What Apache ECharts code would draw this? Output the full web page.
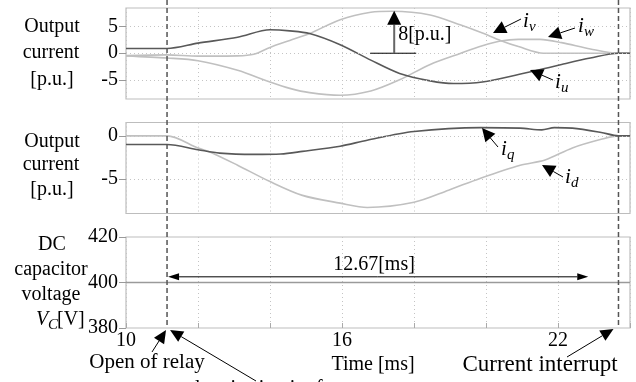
<!DOCTYPE html>
<html>
<head>
<meta charset="utf-8">
<script src="https://cdn.jsdelivr.net/npm/echarts@6/dist/echarts.min.js"></script>
<style>
html, body { margin: 0; padding: 0; background: #fff; }
#chart-box { width: 636px; height: 382px; }
</style>
</head>
<body>
<div id="chart-box"></div>
<script>
// output currents [p.u.] vs time [ms]
var timeU = [10, 11.14, 12, 13.1, 14, 14.55, 15.1, 15.95, 16.8, 17.6, 18.45, 19.1, 19.9, 20.9, 22.1, 22.9, 23.68, 24];
var iu = [0.9, 0.9, 1.9, 3.0, 4.4, 4.2, 3.7, 1.6, -1.3, -3.8, -5.2, -5.7, -5.4, -4.0, -2.1, -0.9, 0, 0];
var timeV = [10, 11.14, 12, 13.1, 13.55, 14, 14.55, 15.1, 15.95, 16.8, 17.4, 18.45, 19.3, 19.9, 20.4, 20.9, 21.6, 23.68, 24];
var iv = [-0.45, -0.3, -0.55, -0.5, -0.2, 1.1, 2.4, 3.7, 6.3, 7.7, 7.9, 7.2, 5.3, 3.8, 2.4, 1.25, 0, 0, 0];
var timeW = [10, 11.14, 12, 13.1, 14, 14.55, 15.1, 15.95, 16.8, 17.6, 18.45, 19.3, 19.9, 20.4, 20.9, 21.5, 22.1, 22.9, 23.68, 24];
var iw = [-0.5, -0.9, -1.4, -3.2, -5.4, -6.6, -7.4, -7.9, -7.1, -5.0, -2.1, 0.0, 1.4, 2.3, 2.6, 2.6, 2.0, 0.8, 0, 0];
// dq currents
var timeQ = [10, 11.14, 12, 12.6, 13.55, 14.3, 14.9, 15.95, 16.7, 18, 19.85, 20.95, 21.55, 21.9, 22.4, 23.2, 23.68, 24];
var iq = [-1.0, -1.0, -1.6, -2.0, -2.15, -2.1, -1.8, -1.2, -0.5, 0.5, 0.96, 0.9, 0.7, 0.96, 0.9, 0.4, 0, 0];
var timeD = [10, 11.14, 12, 12.3, 13.1, 14, 14.9, 15.95, 16.7, 18, 18.96, 19.85, 20.95, 21.64, 22.4, 23.2, 23.68, 24];
var id = [0, 0, -1.4, -1.8, -3.4, -5.3, -6.9, -7.8, -8.3, -7.7, -6.3, -4.9, -3.4, -2.8, -1.4, -0.4, 0, 0];
// dc capacitor voltage [V]
var timeVc = [10, 24];
var vc = [400, 400];

var relayOpen = 11.14;
var currentStop = 23.68;
var xLabels = [10, 16, 22];
var yTicksTop = [5, 0, -5];
var yTicksMid = [0, -5];
var yTicksBot = [420, 400, 380];

var FONT = 'Liberation Serif';
var DARK = '#595959';
var LIGHT = '#c0c0c0';

function pairs(t, v) {
    return t.map(function (x, i) { return [x, v[i]]; });
}

function xAxisOf(idx, withLabel) {
    return {
        type: 'value', gridIndex: idx, min: 10, max: 24, interval: 2,
        axisLine: { show: false },
        axisTick: { show: withLabel, inside: true, length: 5, lineStyle: { color: '#aaa' } },
        axisLabel: {
            show: withLabel, margin: 3, color: '#000', fontSize: 20, fontFamily: FONT,
            formatter: function (v) { return xLabels.indexOf(v) >= 0 ? String(v) : ''; }
        },
        splitLine: { show: true, lineStyle: { type: [1, 3], color: '#c4c4c4' } }
    };
}

function yAxisOf(idx, min, max, ticks) {
    return {
        type: 'value', gridIndex: idx, min: min, max: max,
        axisLine: { show: false },
        axisTick: { show: true, length: 7, customValues: ticks, lineStyle: { color: '#999' } },
        axisLabel: { margin: 8, color: '#000', fontSize: 20, fontFamily: FONT, customValues: ticks },
        splitLine: { show: false }
    };
}

function gridLines(ticks) {
    return {
        silent: true, symbol: ['none', 'none'], label: { show: false }, animation: false,
        lineStyle: { type: [1, 3], color: '#c4c4c4', width: 1 },
        data: ticks.map(function (v) { return { yAxis: v }; })
    };
}

function lineSeries(name, idx, data, color, extra) {
    var s = {
        name: name, type: 'line', xAxisIndex: idx, yAxisIndex: idx,
        data: data, symbol: 'none', smooth: 0.3,
        lineStyle: { color: color, width: 1.6 }, z: 3
    };
    if (extra) s.markLine = extra;
    return s;
}

var gridStyle = { show: true, borderColor: '#bdbdbd', borderWidth: 1.2, left: 126, right: 6, height: 91 };

var option = {
    animation: false,
    grid: [
        Object.assign({ top: 8 }, gridStyle),
        Object.assign({ top: 122.5 }, gridStyle),
        Object.assign({ top: 237 }, gridStyle)
    ],
    xAxis: [xAxisOf(0, false), xAxisOf(1, false), xAxisOf(2, true)],
    yAxis: [
        yAxisOf(0, -8.6, 8.5, yTicksTop),
        yAxisOf(1, -9, 1.55, yTicksMid),
        yAxisOf(2, 380, 420, yTicksBot)
    ],
    series: [
        lineSeries('iw', 0, pairs(timeW, iw), LIGHT, gridLines(yTicksTop)),
        lineSeries('iv', 0, pairs(timeV, iv), LIGHT),
        lineSeries('iu', 0, pairs(timeU, iu), DARK),
        lineSeries('id', 1, pairs(timeD, id), LIGHT, gridLines(yTicksMid)),
        lineSeries('iq', 1, pairs(timeQ, iq), DARK),
        lineSeries('Vc', 2, pairs(timeVc, vc), '#9a9a9a')
    ]
};

var myChart = echarts.init(document.getElementById('chart-box'));
myChart.setOption(option);

function arrow(x1, y1, x2, y2, len, w, stroke, lw) {
    var dx = x2 - x1, dy = y2 - y1;
    var L = Math.sqrt(dx * dx + dy * dy);
    var ux = dx / L, uy = dy / L;
    var bx = x2 - ux * len, by = y2 - uy * len;
    var px = -uy * w / 2, py = ux * w / 2;
    return [
        { type: 'line', z: 20, shape: { x1: x1, y1: y1, x2: bx, y2: by }, style: { stroke: stroke || '#000', lineWidth: lw || 1 } },
        { type: 'polygon', z: 20, shape: { points: [[x2, y2], [bx + px, by + py], [bx - px, by - py]] }, style: { fill: '#000' } }
    ];
}

function txt(x, y, text, size, align, italic) {
    return {
        type: 'text', z: 21, x: x, y: y,
        style: {
            text: text, fill: '#000', fontSize: size || 20, fontFamily: FONT,
            fontStyle: italic ? 'italic' : 'normal',
            align: align || 'center', verticalAlign: 'middle'
        }
    };
}

function subLabel(x, y, sub) {
    return [txt(x, y, 'i', 21, 'left', true), txt(x + 6, y + 6, sub, 15, 'left', true)];
}

var px = function (axis, v) { return myChart.convertToPixel({ xAxisIndex: axis }, v); };
var py = function (axis, v) { return myChart.convertToPixel({ yAxisIndex: axis }, v); };

var xRelay = px(0, relayOpen);
var xStop = px(0, currentStop);
var yBottom = py(2, 380);
var x8 = px(0, 17.45);
var y0 = py(0, 0);
var y8 = py(0, 8);
var yArr = py(2, 402.5);
var xArrEnd = px(2, 22.84);

var g = [];
// dashed event lines
g.push({ type: 'line', z: 19, shape: { x1: xRelay, y1: 0, x2: xRelay, y2: yBottom }, style: { stroke: '#555', lineWidth: 1.5, lineDash: [5, 3] } });
g.push({ type: 'line', z: 19, shape: { x1: xStop, y1: 0, x2: xStop, y2: yBottom }, style: { stroke: '#555', lineWidth: 1.5, lineDash: [5, 3] } });

// 8 p.u. amplitude
g.push({ type: 'line', z: 20, shape: { x1: x8 - 24, y1: y0, x2: x8 + 22, y2: y0 }, style: { stroke: '#000', lineWidth: 1 } });
g = g.concat(arrow(x8, y0, x8, y8, 14, 14, '#666', 2));
g.push(txt(x8 + 4, 35, '8[p.u.]', 20, 'left'));

// phase labels
g = g.concat(arrow(521, 19, 493, 33, 13, 13));
g = g.concat(subLabel(523, 21, 'v'));
g = g.concat(arrow(575, 28, 548, 37, 13, 13));
g = g.concat(subLabel(578, 26, 'w'));
g = g.concat(arrow(553, 80, 530, 70, 13, 13));
g = g.concat(subLabel(555, 82, 'u'));
g = g.concat(arrow(498, 147, 482, 128, 13, 13));
g = g.concat(subLabel(501, 149, 'q'));
g = g.concat(arrow(563, 177, 542, 165, 13, 13));
g = g.concat(subLabel(565, 177, 'd'));

// 12.67 ms span
g = g.concat(arrow((xRelay + xArrEnd) / 2, yArr, xRelay + 1, yArr, 11, 7));
g = g.concat(arrow((xRelay + xArrEnd) / 2, yArr, xArrEnd, yArr, 11, 7));
g.push(txt(374, 265, '12.67[ms]', 20));

// axis titles
g.push(txt(52, 27, 'Output'), txt(51, 53, 'current'), txt(52, 80, '[p.u.]'));
g.push(txt(52, 141.5, 'Output'), txt(51, 165, 'current'), txt(52, 190, '[p.u.]'));
g.push(txt(52, 245, 'DC'), txt(51, 270, 'capacitor'), txt(51, 295, 'voltage'));
g.push(txt(36, 320, 'V', 20, 'left', true), txt(48, 325, 'C', 15, 'left', true), txt(57, 320, '[V]', 20, 'left'));

// bottom notes
g.push(txt(373, 365, 'Time [ms]', 20));
g.push(txt(147, 362, 'Open of relay', 21));
g.push(txt(540, 365, 'Current interrupt', 23));
g.push(txt(186, 388.5, 'electric circuit of motor', 20, 'left'));
g = g.concat(arrow(152, 352, xRelay - 1, 330, 13, 12));
g = g.concat(arrow(256, 381, xRelay + 3, 330, 13, 12));
g = g.concat(arrow(567, 357, xStop - 5, 329, 13, 12));

myChart.setOption({ graphic: { elements: g } });
</script>
</body>
</html>
